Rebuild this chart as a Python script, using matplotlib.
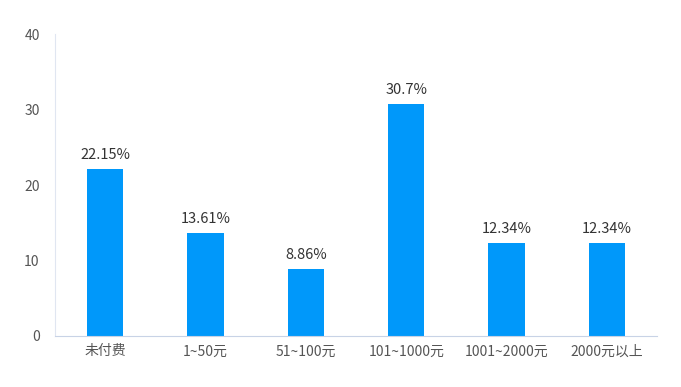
import matplotlib
matplotlib.use('Agg')
import matplotlib.pyplot as plt

plt.rcParams['font.family'] = ['Noto Sans CJK SC', 'DejaVu Sans']

categories = ['未付费', '1~50元', '51~100元', '101~1000元', '1001~2000元', '2000元以上']
values = [22.15, 13.61, 8.86, 30.7, 12.34, 12.34]
labels = ['22.15%', '13.61%', '8.86%', '30.7%', '12.34%', '12.34%']

fig = plt.figure(figsize=(6.81, 3.87), dpi=100)
ax = fig.add_axes([0.0808, 0.1318, 0.884, 0.7802])

x = range(len(categories))
ax.bar(x, values, width=0.36, color='#0098fa')
for i, v in enumerate(values):
    ax.text(i, v + 0.9, labels[i], ha='center', va='bottom', fontsize=10.5, color='#333333')

ax.set_xlim(-0.5, len(categories) - 0.5)
ax.set_ylim(0, 40)
ax.set_yticks([0, 10, 20, 30, 40])
ax.set_xticks(list(x))
ax.set_xticklabels(categories)

for s in ['top', 'right']:
    ax.spines[s].set_visible(False)
ax.spines['left'].set_color('#e0e6f1')
ax.spines['bottom'].set_color('#c8d3e6')
ax.tick_params(axis='both', length=0, labelsize=10, colors='#555555')
ax.tick_params(axis='y', pad=11)
ax.tick_params(axis='x', pad=6)

fig.savefig('out.png', dpi=100)
